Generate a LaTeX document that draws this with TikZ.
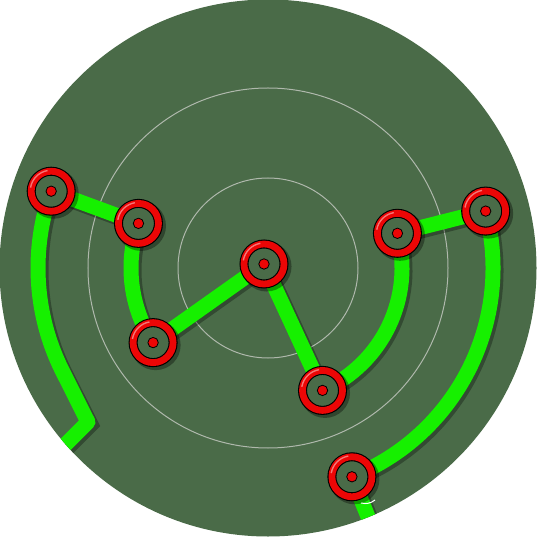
\documentclass[tikz,border=0pt]{standalone}
\usetikzlibrary{calc}
\definecolor{boardgreen}{RGB}{74,107,72}
\definecolor{trackgreen}{RGB}{22,240,0}
\definecolor{ringred}{RGB}{236,6,6}
\definecolor{ringgray}{RGB}{175,184,172}
\pgfdeclarelayer{board}
\pgfdeclarelayer{tracks}
\pgfdeclarelayer{shade}
\pgfsetlayers{board,tracks,shade,main}
\tikzset{
         target/.style=
          {
           circle,draw=black,line width=1.1pt,fill=boardgreen,
           double=ringred,double distance=6.8pt,
           minimum size=40pt,inner sep=0pt,
           path picture={\fill[ringred,draw=black,line width=.8pt](path picture bounding box.center)circle(5.2pt);}
          },
         track/.style=
          {
           draw=trackgreen,line width=15pt,line join=round,
           preaction={draw=black,opacity=.3,line width=16pt,transform canvas={shift={(2.5pt,-2.5pt)}}}
          }
        }
\begin{document}
\begin{tikzpicture}[x=1pt,y=1pt]
\useasboundingbox(-268,-269)rectangle(269,268);
%targets
\node[target](n1)at(160.5:230){};
\node[target](n2)at(161:137){};
\node[target](n3)at(213:137){};
\node[target](n4)at(-4,4){};
\node[target](n5)at(-66:134){};
\node[target](n6)at(15:134){};
\node[target](n7)at(14.65:225){};
\node[target](n8)at(-68.1:225){};
\coordinate(c1)at(-180,-154);
\coordinate(x1)at(-250,-224);
\coordinate(x2)at(-68.1:300);
\coordinate(w1)at(93,-235);
\coordinate(w2)at(107,-232);
%board
\begin{pgfonlayer}{board}
\fill[boardgreen](0,0)circle(268.5);
\foreach \r in {90,180}{
\draw[ringgray,line width=1pt](0,0)circle(\r);
}
\end{pgfonlayer}
%track
\begin{pgfonlayer}{tracks}
\begin{scope}
\clip(0,0)circle(268.5);
\draw[track](x1)--(c1)--(206:230)arc[start angle=206,end angle=160.5,radius=230]--(n2.center)
  arc[start angle=161,end angle=213,radius=137]--(n4.center)--(n5.center)
  arc[start angle=-66,end angle=15,radius=134]--(n7.center)
  arc[start angle=14.65,end angle=-68.1,radius=225]--(x2);
\end{scope}
\end{pgfonlayer}
%shadows
\begin{pgfonlayer}{shade}
\foreach \t in {1,...,8}{
\draw[black,opacity=.35,line width=10pt]($(n\t)+(2.5,-2.5)$)circle(20);
}
\end{pgfonlayer}
%shine
\foreach \t in {1,...,8}{
\draw[white,opacity=.45,line width=1.4pt]([shift={(100:21)}]n\t.center)arc[start angle=100,end angle=170,radius=21];
}
\draw[white,line width=1pt](w1)to[bend right=25](w2);
\end{tikzpicture}
\end{document}
